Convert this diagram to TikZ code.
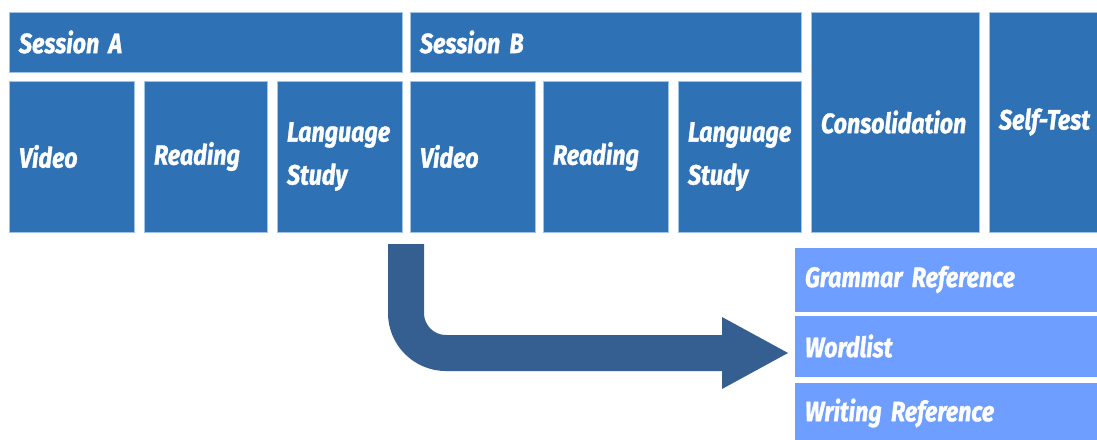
\documentclass[tikz,border=0pt]{standalone}
\usepackage{fontspec}
\setmainfont{Fira Sans}[FakeStretch=0.83, BoldItalicFeatures={FakeBold=1.2}]
\usetikzlibrary{arrows.meta}
\definecolor{topblue}{RGB}{46,114,181}
\definecolor{lightblue}{RGB}{110,158,255}
\definecolor{arrowblue}{RGB}{54,95,145}
\definecolor{edgeblue}{RGB}{160,196,232}
\begin{document}
\begin{tikzpicture}[x=1pt,y=-1pt,
  box/.style={anchor=north west, fill=topblue, draw=edgeblue, line width=0.8pt,
    inner xsep=10pt, inner ysep=0pt, outer sep=0pt, align=left, text=white,
    font=\bfseries\itshape\fontsize{28}{43}\selectfont},
  lbox/.style={box, fill=lightblue, draw=white},
  bigarrow/.style={draw=arrowblue, line width=36pt, rounded corners=40pt,
    -{Triangle[length=66pt,width=72pt,line width=0pt]}}]
\useasboundingbox (0,0) rectangle (1097,439);
\clip (0,0) rectangle (1097,439);
% Session A
\node[box, text width=373pt, minimum height=60pt] (sessA) at (9,12) {Session A};
\node[box, text width=105pt, minimum height=151pt] (vidA) at (9,81) {Video};
\node[box, text width=103pt, minimum height=151pt] (readA) at (144,81) {Reading};
\node[box, text width=105pt, minimum height=151pt] (langA) at (277,81) {Language\\Study};
% Session B
\node[box, text width=371pt, minimum height=60pt] (sessB) at (410,12) {Session B};
\node[box, text width=105pt, minimum height=151pt] (vidB) at (410,81) {Video};
\node[box, text width=105pt, minimum height=151pt] (readB) at (543,81) {Reading};
\node[box, text width=103pt, minimum height=151pt] (langB) at (678,81) {Language\\Study};
% Consolidation, Self-Test
\node[box, text width=148pt, minimum height=220pt] (cons) at (811,12) {Consolidation};
\node[box, text width=120pt, minimum height=220pt] (self) at (989,12) {Self-Test};
% References
\node[lbox, text width=298pt, minimum height=65pt, inner xsep=11pt] (gram) at (794,247) {Grammar Reference};
\node[lbox, text width=298pt, minimum height=62pt, inner xsep=11pt] (word) at (794,315) {Wordlist};
\node[lbox, text width=298pt, minimum height=62pt, inner xsep=11pt] (writ) at (794,382) {Writing Reference};
% Arrow
\coordinate (astart) at (406,244);
\coordinate (aend) at ([xshift=-6pt,yshift=-7pt]word.west);
\draw[bigarrow] (astart) |- (aend);
\end{tikzpicture}
\end{document}
